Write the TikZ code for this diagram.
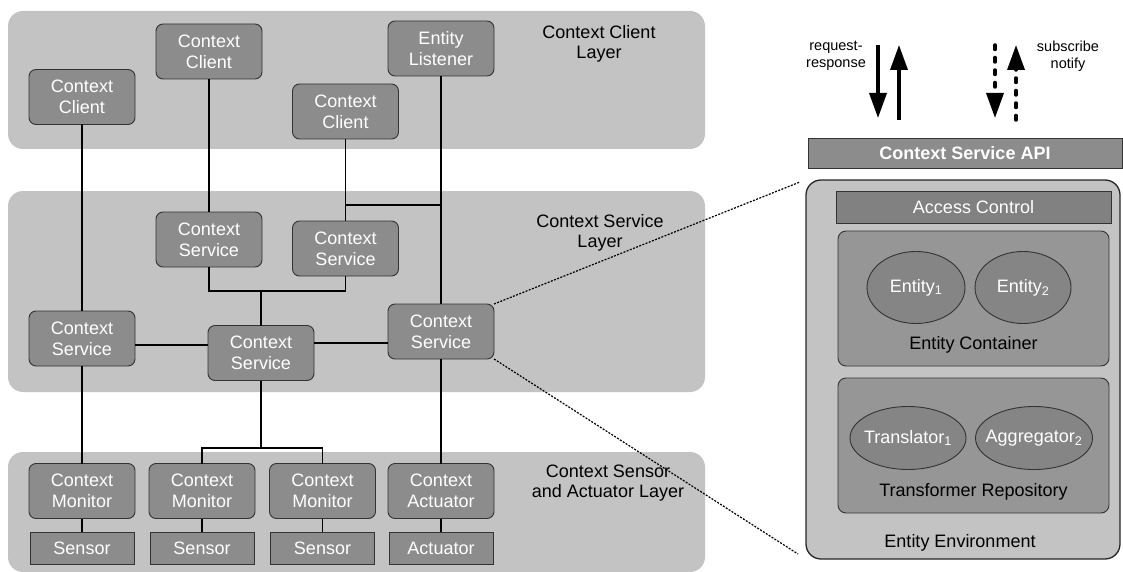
\documentclass[tikz,border=0pt]{standalone}
\usepackage{fontspec}
\setmainfont{Liberation Sans}
\usetikzlibrary{arrows.meta,shapes.geometric}
\definecolor{layerbg}{HTML}{C3C3C3}
\definecolor{compfill}{HTML}{8C8C8C}
\definecolor{contfill}{HTML}{969696}
\definecolor{ellfill}{HTML}{858585}
\definecolor{edge}{HTML}{333333}
\newcommand{\zw}[1]{\makebox[0pt]{#1}}
\begin{document}
\begin{tikzpicture}[x=1pt,y=-1pt,
  every node/.style={inner sep=0pt,outer sep=0pt},
  layerbox/.style={fill=layerbg,rounded corners=15pt},
  comp/.style={draw=edge,line width=0.9pt,fill=compfill,rounded corners=7pt,
    minimum width=106pt,minimum height=55pt,text=white,align=center,
    font=\fontsize{18}{21}\selectfont},
  plainbox/.style={draw=edge,line width=0.9pt,fill=compfill,
    minimum width=104pt,minimum height=32pt,text=white,
    font=\fontsize{18}{21}\selectfont},
  layerlabel/.style={align=center,font=\fontsize{18}{20.5}\selectfont},
  wire/.style={line width=1.5pt},
  dotline/.style={line width=1.2pt,dash pattern=on 2pt off 1.4pt},
  container/.style={draw=edge,line width=0.9pt,fill=contfill,rounded corners=8pt},
  ent/.style={ellipse,draw=edge,line width=0.9pt,fill=ellfill,text=white,
    font=\fontsize{18}{21}\selectfont},
  bigarrow/.style={line width=3.5pt,-{Triangle[length=25pt,width=17pt]}},
  dasharrow/.style={line width=3.5pt,line cap=round,dash pattern=on 4.5pt off 8pt,
    -{Triangle[length=25pt,width=17pt]}},
  smalllabel/.style={align=center,font=\fontsize{14.5}{17}\selectfont}
]
\useasboundingbox (0,0) rectangle (1123,572);

% layers
\node[layerbox,minimum width=697pt,minimum height=138pt] (clientlayer) at (356.5,80) {};
\node[layerbox,minimum width=697pt,minimum height=201pt] (servicelayer) at (356.5,291.5) {};
\node[layerbox,minimum width=697pt,minimum height=120pt] (sensorlayer) at (356.5,512) {};

\node[layerlabel] (lclient) at (599,44) {Context Client\\Layer};
\node[layerlabel] (lservice) at (600,233) {Context Service\\Layer};
\node[layerlabel] (lsensor) at (608,483) {Context Sensor\\and Actuator Layer};

% clients
\node[comp] (cc1) at (82,97) {Context\\Client};
\node[comp] (cc2) at (209,51.5) {Context\\Client};
\node[comp] (cc3) at (345.5,111.5) {Context\\Client};
\node[comp] (el) at (441,48.5) {Entity\\Listener};

% services
\node[comp] (csa) at (209,239.5) {Context\\Service};
\node[comp] (csb) at (345.5,248.5) {Context\\Service};
\node[comp] (csc) at (82,338.5) {Context\\Service};
\node[comp] (csd) at (261,353) {Context\\Service};
\node[comp] (cse) at (441,331.5) {Context\\Service};

% monitors / actuator
\node[comp] (cm1) at (82,491) {Context\\Monitor};
\node[comp] (cm2) at (202,491) {Context\\Monitor};
\node[comp] (cm3) at (322.5,491) {Context\\Monitor};
\node[comp] (cact) at (441,491) {Context\\Actuator};

\node[plainbox] (s1) at (82,548) {Sensor};
\node[plainbox] (s2) at (202,548) {Sensor};
\node[plainbox] (s3) at (322.5,548) {Sensor};
\node[plainbox] (act) at (441,548) {Actuator};

% junction coordinates
\coordinate (j1) at (345.5,205);
\coordinate (j2) at (261,291);
\coordinate (j3) at (261,448);

% connectors
\draw[wire] (cc1.south) -- (csc.north);
\draw[wire] (csc.south) -- (cm1.north);
\draw[wire] (cc2.south) -- (csa.north);
\draw[wire] (cc3.south) -- (csb.north);
\draw[wire] (el.south) -- (cse.north);
\draw[wire] (j1) -- (j1 -| el.south);
\draw[wire] (csa.south) |- (j2) -| (csb.south);
\draw[wire] (j2) -- (csd.north);
\draw[wire] (csc.east |- 0,345) -- (csd.west |- 0,345);
\draw[wire] (csd.east |- 0,343) -- (cse.west |- 0,343);
\draw[wire] (csd.south) -- (j3);
\draw[wire] (cm2.north) |- (j3) -| (cm3.north);
\draw[wire] (cse.south) -- (cact.north);
\draw[wire] (cm1.south) -- (s1.north);
\draw[wire] (cm2.south) -- (s2.north);
\draw[wire] (cm3.south) -- (s3.north);
\draw[wire] (cact.south) -- (act.north);

% right panel
\node[draw=edge,line width=0.9pt,fill=compfill,minimum width=314pt,minimum height=30pt,
  text=white,font=\bfseries\fontsize{18}{21}\selectfont] (api) at (965,153) {Context Service API};
\node[draw=black!85,line width=1.3pt,fill=layerbg,rounded corners=15pt,
  minimum width=314pt,minimum height=379pt] (env) at (963,369.5) {};
\node[draw=edge,line width=0.9pt,fill=compfill!92!black,minimum width=275pt,minimum height=32pt,
  text=white,font=\fontsize{18}{21}\selectfont] (ac) at (973.5,207) {Access Control};
\node[container,minimum width=271pt,minimum height=135pt] (econt) at (973.5,298.5) {};
\node[ent,minimum width=98pt,minimum height=72pt] (e1) at (916,287.5) {\zw{Entity\textsubscript{1}}};
\node[ent,minimum width=96pt,minimum height=72pt] (e2) at (1023,287.5) {\zw{Entity\textsubscript{2}}};
\node[font=\fontsize{18}{21}\selectfont] (lcont) at (973.5,345) {Entity Container};
\node[container,minimum width=271pt,minimum height=135pt] (trep) at (973.5,445.5) {};
\node[ent,minimum width=116pt,minimum height=63pt] (t1) at (908,438) {\zw{Translator\textsubscript{1}}};
\node[ent,minimum width=117pt,minimum height=63pt] (a2) at (1034,438) {\zw{Aggregator\textsubscript{2}}};
\node[font=\fontsize{18}{21}\selectfont] (ltrep) at (973.5,492) {Transformer Repository};
\node[font=\fontsize{18}{21}\selectfont] (lenv) at (960,543) {Entity Environment};

% zoom lines
\draw[dotline] (cse.north east) -- ([shift={(-6pt,-2pt)}]env.north west);
\draw[dotline] (cse.south east) -- ([shift={(-8pt,5pt)}]env.south west);

% arrows
\coordinate (r1a) at (878,45);
\coordinate (r1b) at (878,118);
\coordinate (r2a) at (899,120);
\coordinate (r2b) at (899,45);
\coordinate (d1a) at (995,45);
\coordinate (d1b) at (995,118);
\coordinate (d2a) at (1016,120);
\coordinate (d2b) at (1016,45);
\draw[bigarrow] (r1a) -- (r1b);
\draw[bigarrow] (r2a) -- (r2b);
\draw[dasharrow] (d1a) -- (d1b);
\draw[dasharrow] (d2a) -- (d2b);
\node[smalllabel] (lrr) at (836,56) {request-\\response};
\node[smalllabel] (lsn) at (1068,56) {subscribe\\notify};
\end{tikzpicture}
\end{document}
